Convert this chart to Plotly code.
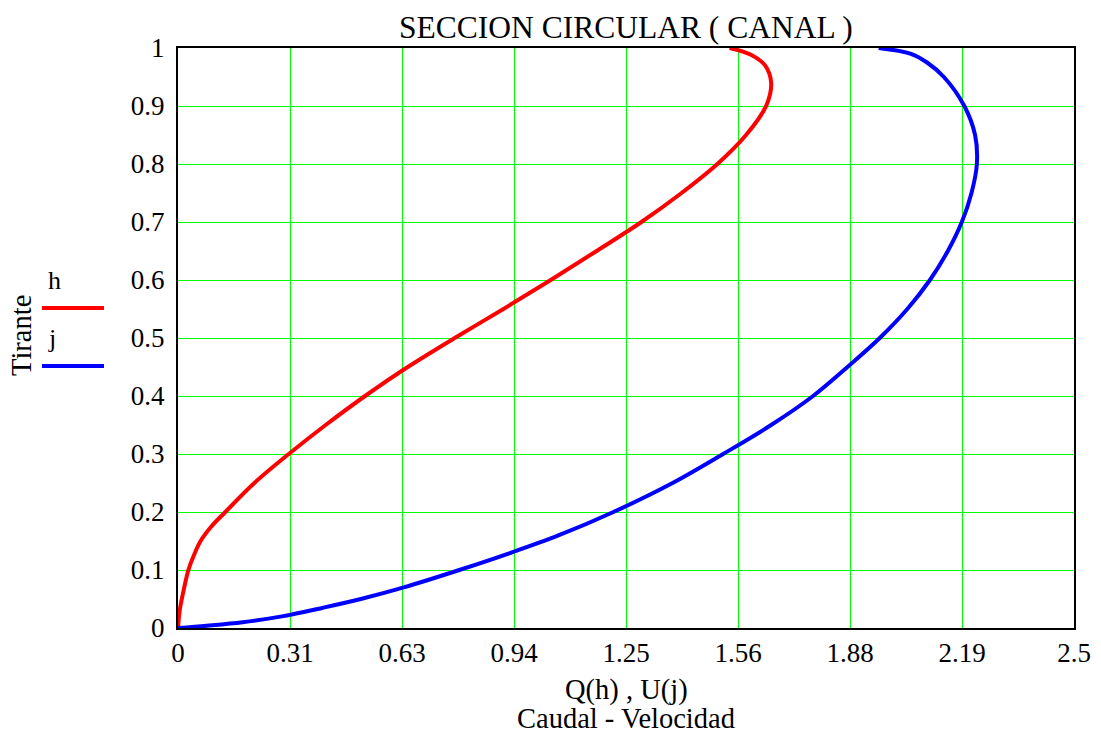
import plotly.graph_objects as go

# Curve h: caudal Q(h) vs tirante h
h_tirante = [0, 0.03, 0.06, 0.1, 0.125, 0.15, 0.175, 0.2, 0.25, 0.3, 0.35, 0.4, 0.45, 0.5,
             0.55, 0.6, 0.65, 0.7, 0.75, 0.8, 0.85, 0.9, 0.94, 0.97, 0.988, 1.0]
Q_caudal = [0, 0.0047, 0.014, 0.029, 0.044, 0.063, 0.093, 0.132, 0.213, 0.309, 0.412, 0.522, 0.641, 0.772,
            0.908, 1.040, 1.168, 1.293, 1.405, 1.505, 1.585, 1.641, 1.655, 1.638, 1.600, 1.539]

# Curve j: velocidad U(j) vs tirante j
j_tirante = [0, 0.004, 0.01, 0.02, 0.035, 0.05, 0.07, 0.1, 0.13, 0.16, 0.2, 0.25, 0.3, 0.35,
             0.4, 0.45, 0.5, 0.55, 0.6, 0.65, 0.7, 0.75, 0.8, 0.85, 0.9, 0.95, 0.975, 0.99, 1.0]
U_velocidad = [0, 0.08, 0.18, 0.29, 0.405, 0.51, 0.63, 0.785, 0.93, 1.063, 1.215, 1.38, 1.521, 1.655,
               1.772, 1.868, 1.958, 2.035, 2.098, 2.148, 2.187, 2.214, 2.229, 2.224, 2.194, 2.137,
               2.09, 2.045, 1.955]

x_tickvals = [0, 0.3125, 0.625, 0.9375, 1.25, 1.5625, 1.875, 2.1875, 2.5]
x_ticktext = ["0", "0.31", "0.63", "0.94", "1.25", "1.56", "1.88", "2.19", "2.5"]
y_tickvals = [0, 0.1, 0.2, 0.3, 0.4, 0.5, 0.6, 0.7, 0.8, 0.9, 1.0]
y_ticktext = ["0", "0.1", "0.2", "0.3", "0.4", "0.5", "0.6", "0.7", "0.8", "0.9", "1"]

FONT = "Liberation Serif"
RED = "#ff0000"
BLUE = "#0000ff"
GRID = "#00ff00"

fig = go.Figure()
fig.add_trace(go.Scatter(x=Q_caudal, y=h_tirante, mode="lines", name="h",
                         line=dict(color=RED, width=4, shape="spline", smoothing=1.0)))
fig.add_trace(go.Scatter(x=U_velocidad, y=j_tirante, mode="lines", name="j",
                         line=dict(color=BLUE, width=4, shape="spline", smoothing=1.0)))

axis_common = dict(showgrid=True, gridcolor=GRID, gridwidth=1, zeroline=False,
                   showline=True, linecolor="black", linewidth=2, mirror=True,
                   ticks="", tickfont=dict(family=FONT, size=27, color="black"))
fig.update_xaxes(range=[0, 2.5], tickvals=x_tickvals, ticktext=x_ticktext, **axis_common)
fig.update_yaxes(range=[0, 1], tickvals=y_tickvals, ticktext=y_ticktext, ticklabelstandoff=6, **axis_common)

annotations = [
    dict(text="SECCION CIRCULAR ( CANAL )", x=0.5, y=1.0, xref="paper", yref="paper",
         yshift=21, showarrow=False, yanchor="middle", font=dict(family=FONT, size=31.5, color="black")),
    dict(text="Q(h) , U(j)", x=0.5, y=0, xref="paper", yref="paper", yshift=-62,
         showarrow=False, yanchor="middle", font=dict(family=FONT, size=28.5, color="black")),
    dict(text="Caudal - Velocidad", x=0.5, y=0, xref="paper", yref="paper", yshift=-90,
         showarrow=False, yanchor="middle", font=dict(family=FONT, size=28.5, color="black")),
    dict(text="Tirante", x=0, y=0.5, xref="paper", yref="paper", xshift=-157, yshift=2,
         textangle=-90, showarrow=False, xanchor="center", yanchor="middle",
         font=dict(family=FONT, size=28.5, color="black")),
    dict(text="h", x=0, y=0.5, xref="paper", yref="paper", xshift=-124, yshift=58,
         showarrow=False, xanchor="center", yanchor="middle", font=dict(family=FONT, size=26, color="black")),
    dict(text="j", x=0, y=0.5, xref="paper", yref="paper", xshift=-126, yshift=0,
         showarrow=False, xanchor="center", yanchor="middle", font=dict(family=FONT, size=26, color="black")),
]

shapes = [
    dict(type="line", xref="paper", yref="paper", x0=-0.1518, x1=-0.0826, y0=0.5517, y1=0.5517,
         line=dict(color=RED, width=4)),
    dict(type="line", xref="paper", yref="paper", x0=-0.1518, x1=-0.0826, y0=0.4517, y1=0.4517,
         line=dict(color=BLUE, width=4)),
]

fig.update_layout(template="none", width=1101, height=734, margin=dict(l=178, r=27, t=48, b=106),
                  plot_bgcolor="white", paper_bgcolor="white", showlegend=False,
                  annotations=annotations, shapes=shapes,
                  font=dict(family=FONT, color="black"))

fig.write_html("out.html")
